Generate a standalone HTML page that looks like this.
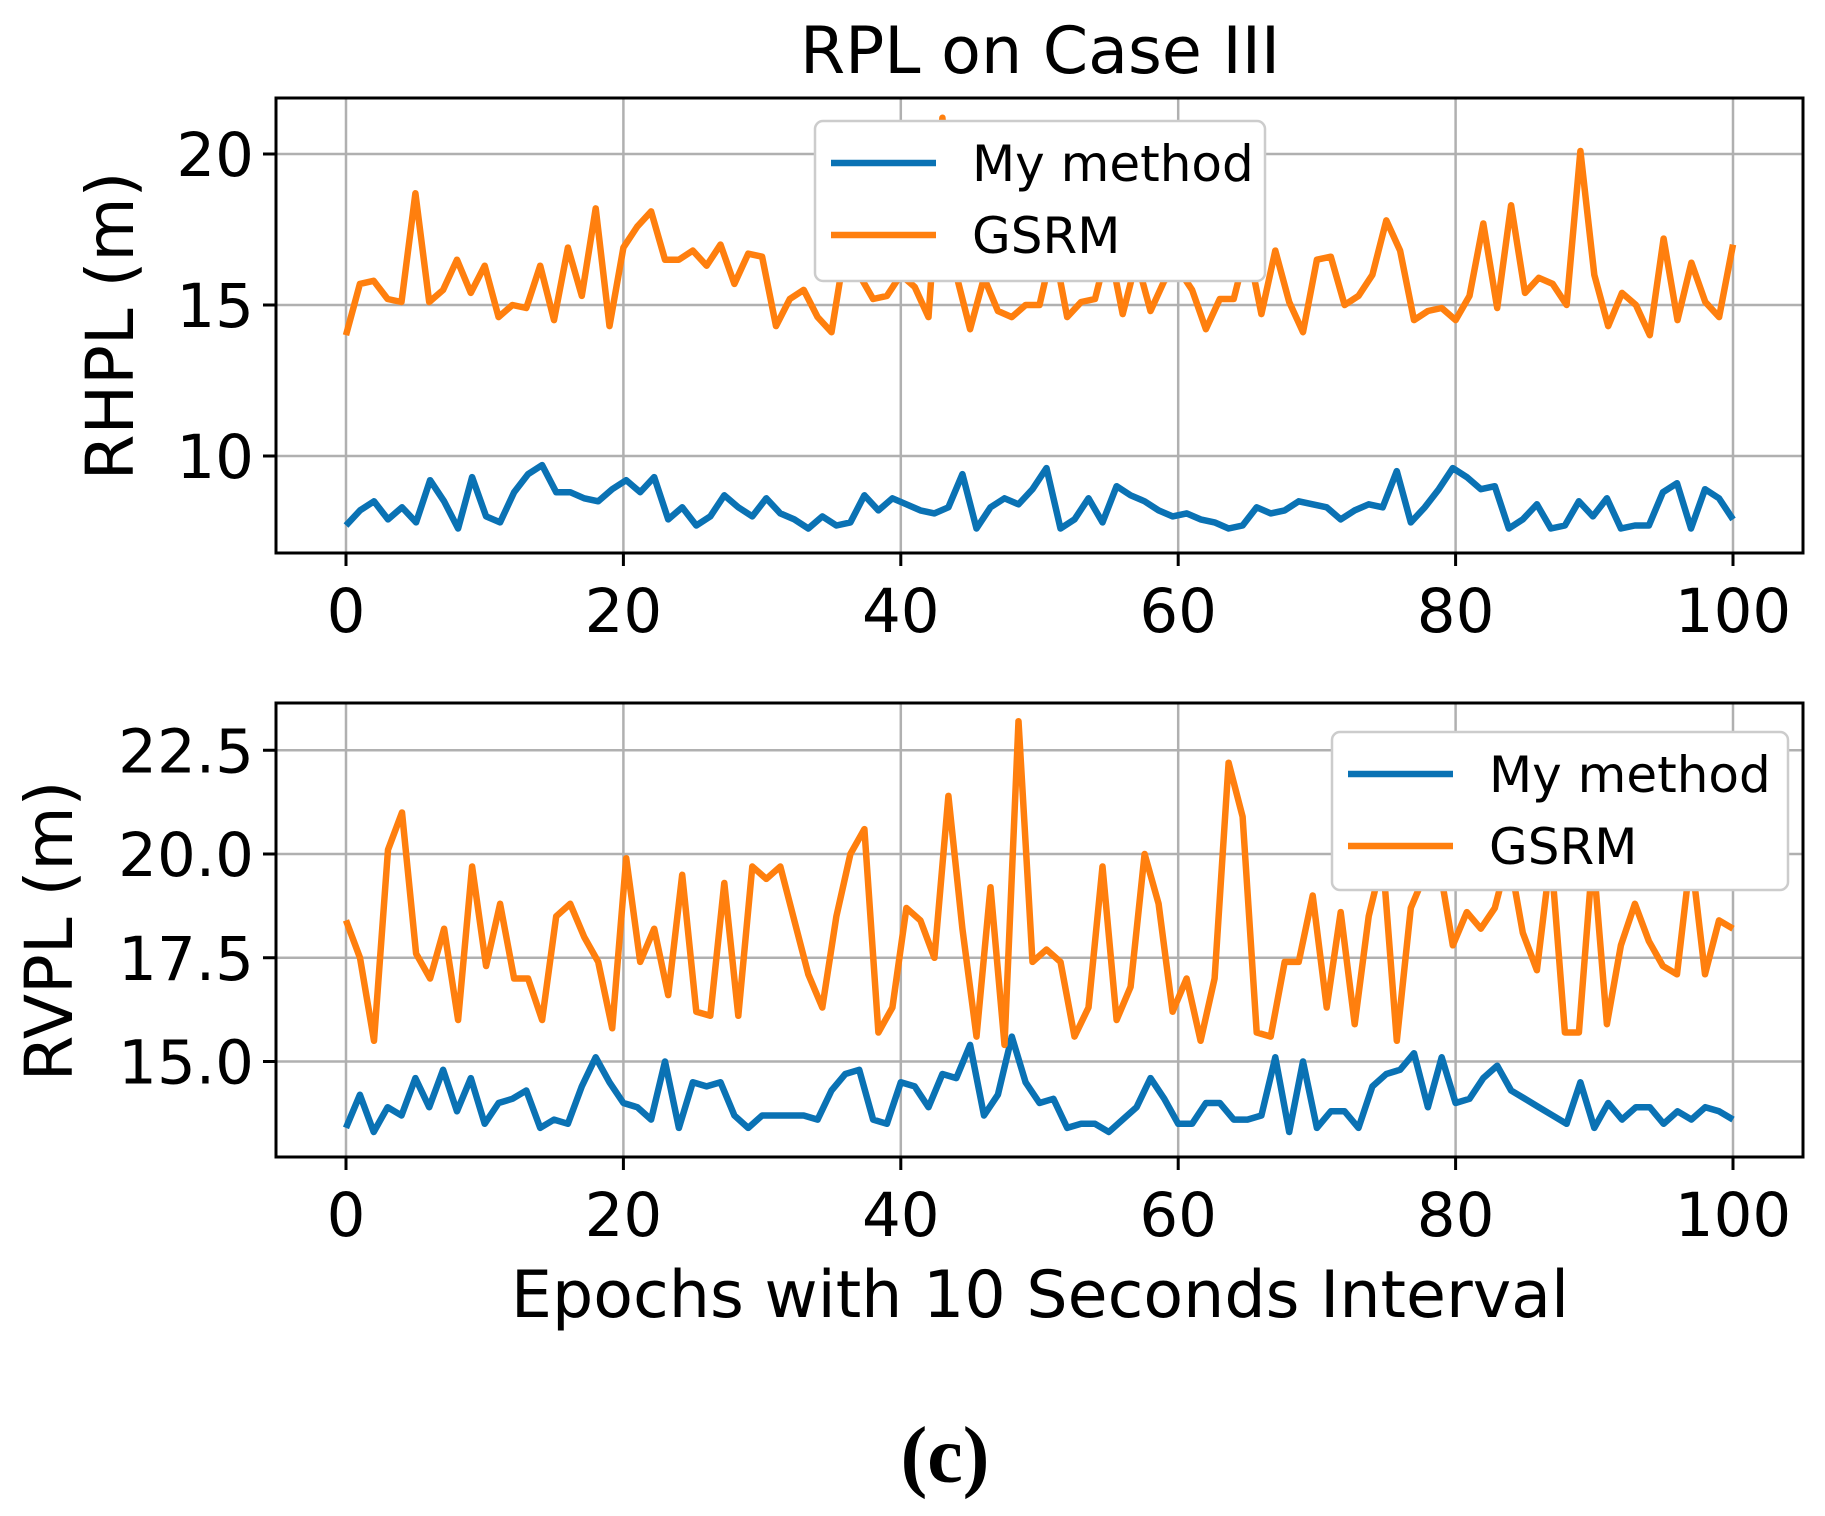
<!DOCTYPE html>
<html><head><meta charset="utf-8"><style>html,body{margin:0;padding:0;background:#fff}svg{display:block}</style></head>
<body>
<svg id="s" width="1825" height="1516" viewBox="0 0 1825 1516" xmlns="http://www.w3.org/2000/svg" font-family="DejaVu Sans, Liberation Sans, sans-serif">
<rect width="1825" height="1516" fill="#fff"/>
<g id="g"></g>
<text x="1040" y="73" font-size="65" text-anchor="middle">RPL on Case III</text>
<text transform="translate(133,326) rotate(-90)" font-size="66" text-anchor="middle">RHPL (m)</text>
<text transform="translate(72,931) rotate(-90)" font-size="66" text-anchor="middle">RVPL (m)</text>
<text x="1040" y="1317" font-size="65" text-anchor="middle">Epochs with 10 Seconds Interval</text>
<text x="945" y="1482" font-size="80" font-weight="bold" text-anchor="middle" font-family="Liberation Serif, serif">(c)</text>
</svg>
<script>
const NS="http://www.w3.org/2000/svg",g=document.getElementById('g');
function el(t,a,txt){const e=document.createElementNS(NS,t);for(const k in a)e.setAttribute(k,a[k]);if(txt!==undefined)e.textContent=txt;g.appendChild(e);return e;}
const X0=346,XS=13.87,L=276,R=1803;
const tg=[14.0,15.7,15.8,15.2,15.1,18.7,15.1,15.5,16.5,15.4,16.3,14.6,15.0,14.9,16.3,14.5,16.9,15.3,18.2,14.3,16.9,17.6,18.1,16.5,16.5,16.8,16.3,17.0,15.7,16.7,16.6,14.3,15.2,15.5,14.6,14.1,16.9,16.0,15.2,15.3,16.0,15.6,14.6,21.2,16.0,14.2,15.9,14.8,14.6,15.0,15.0,17.0,14.6,15.1,15.2,17.0,14.7,16.5,14.8,15.8,16.2,15.5,14.2,15.2,15.2,17.0,14.7,16.8,15.1,14.1,16.5,16.6,15.0,15.3,16.0,17.8,16.8,14.5,14.8,14.9,14.5,15.3,17.7,14.9,18.3,15.4,15.9,15.7,15.0,20.1,16.0,14.3,15.4,15.0,14.0,17.2,14.5,16.4,15.1,14.6,17.0];
const tb=[7.7,8.2,8.5,7.9,8.3,7.8,9.2,8.5,7.6,9.3,8.0,7.8,8.8,9.4,9.7,8.8,8.8,8.6,8.5,8.9,9.2,8.8,9.3,7.9,8.3,7.7,8.0,8.7,8.3,8.0,8.6,8.1,7.9,7.6,8.0,7.7,7.8,8.7,8.2,8.6,8.4,8.2,8.1,8.3,9.4,7.6,8.3,8.6,8.4,8.9,9.6,7.6,7.9,8.6,7.8,9.0,8.7,8.5,8.2,8.0,8.1,7.9,7.8,7.6,7.7,8.3,8.1,8.2,8.5,8.4,8.3,7.9,8.2,8.4,8.3,9.5,7.8,8.3,8.9,9.6,9.3,8.9,9.0,7.6,7.9,8.4,7.6,7.7,8.5,8.0,8.6,7.6,7.7,7.7,8.8,9.1,7.6,8.9,8.6,7.9];
const bg=[18.4,17.5,15.5,20.1,21.0,17.6,17.0,18.2,16.0,19.7,17.3,18.8,17.0,17.0,16.0,18.5,18.8,18.0,17.4,15.8,19.9,17.4,18.2,16.6,19.5,16.2,16.1,19.3,16.1,19.7,19.4,19.7,18.4,17.1,16.3,18.5,20.0,20.6,15.7,16.3,18.7,18.4,17.5,21.4,18.2,15.6,19.2,15.4,23.2,17.4,17.7,17.4,15.6,16.3,19.7,16.0,16.8,20.0,18.8,16.2,17.0,15.5,17.0,22.2,20.9,15.7,15.6,17.4,17.4,19.0,16.3,18.6,15.9,18.5,19.9,15.5,18.7,19.5,19.8,17.8,18.6,18.2,18.7,20.0,18.1,17.2,20.0,15.7,15.7,20.0,15.9,17.8,18.8,17.9,17.3,17.1,20.0,17.1,18.4,18.2];
const bb=[13.4,14.2,13.3,13.9,13.7,14.6,13.9,14.8,13.8,14.6,13.5,14.0,14.1,14.3,13.4,13.6,13.5,14.4,15.1,14.5,14.0,13.9,13.6,15.0,13.4,14.5,14.4,14.5,13.7,13.4,13.7,13.7,13.7,13.7,13.6,14.3,14.7,14.8,13.6,13.5,14.5,14.4,13.9,14.7,14.6,15.4,13.7,14.2,15.6,14.5,14.0,14.1,13.4,13.5,13.5,13.3,13.6,13.9,14.6,14.1,13.5,13.5,14.0,14.0,13.6,13.6,13.7,15.1,13.3,15.0,13.4,13.8,13.8,13.4,14.4,14.7,14.8,15.2,13.9,15.1,14.0,14.1,14.6,14.9,14.3,14.1,13.9,13.7,13.5,14.5,13.4,14.0,13.6,13.9,13.9,13.5,13.8,13.6,13.9,13.8,13.6];
function axes(T,B,yt,fy,labs,series,leg){
  for(let v=0;v<=100;v+=20){const x=X0+v*XS;el('line',{x1:x,x2:x,y1:T,y2:B,stroke:'#b0b0b0','stroke-width':2.5});
    el('line',{x1:x,x2:x,y1:B,y2:B+13,stroke:'#000','stroke-width':3});
    el('text',{x:x,y:B+79,'font-size':61,'text-anchor':'middle'},String(v));}
  yt.forEach((v,i)=>{const y=fy(v);el('line',{x1:L,x2:R,y1:y,y2:y,stroke:'#b0b0b0','stroke-width':2.5});
    el('line',{x1:L-13,x2:L,y1:y,y2:y,stroke:'#000','stroke-width':3});
    el('text',{x:L-22,y:y+22,'font-size':61,'text-anchor':'end'},labs[i]);});
  series.forEach(([d,c])=>{const n=d.length;el('polyline',{points:d.map((v,i)=>(X0+i*100/(n-1)*XS).toFixed(1)+','+fy(v).toFixed(1)).join(' '),fill:'none',stroke:c,'stroke-width':6.5,'stroke-linejoin':'round'});});
  const [lx,ly,lw,lh]=leg;
  el('rect',{x:lx,y:ly,width:lw,height:lh,rx:8,fill:'#fff',stroke:'#ccc','stroke-width':2.5});
  el('line',{x1:lx+16,x2:lx+121,y1:ly+42,y2:ly+42,stroke:'#0a72b4','stroke-width':6.5});
  el('line',{x1:lx+16,x2:lx+121,y1:ly+114,y2:ly+114,stroke:'#ff7f0e','stroke-width':6.5});
  el('text',{x:lx+157,y:ly+60,'font-size':50},'My method');
  el('text',{x:lx+157,y:ly+132,'font-size':50},'GSRM');
  el('rect',{x:L,y:T,width:R-L,height:B-T,fill:'none',stroke:'#000','stroke-width':3});
}
axes(98,553,[10,15,20],v=>456-(v-10)*30.2,['10','15','20'],[[tb,'#0a72b4'],[tg,'#ff7f0e']],[815,121,450,160]);
axes(703,1157,[15,17.5,20,22.5],v=>854-(v-20)*41.5,['15.0','17.5','20.0','22.5'],[[bb,'#0a72b4'],[bg,'#ff7f0e']],[1332,732,456,158]);
</script>
</body></html>
